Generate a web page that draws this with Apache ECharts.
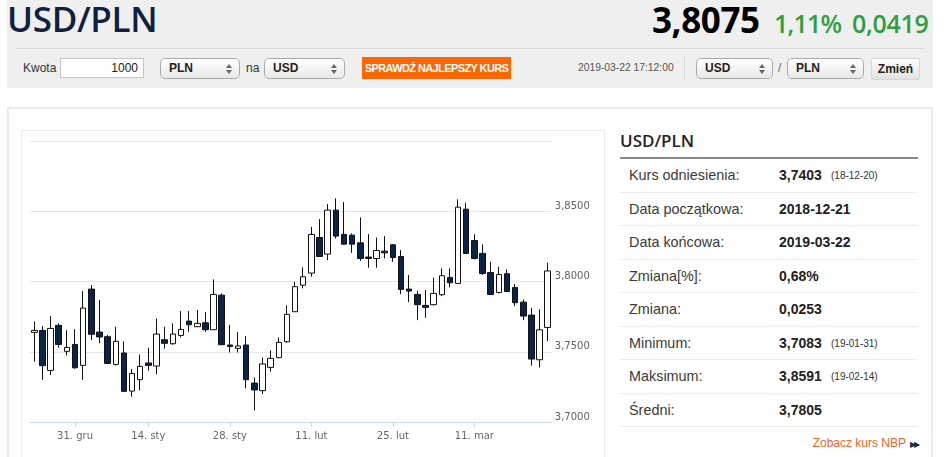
<!DOCTYPE html>
<html>
<head>
<meta charset="utf-8">
<script src="https://cdn.jsdelivr.net/npm/echarts/dist/echarts.min.js"></script>
<style>
  html, body { margin: 0; padding: 0; background: #fff; width: 945px; height: 457px; overflow: hidden; }
  body { position: relative; font-family: "Liberation Sans", Arial, sans-serif; color: #333; }
  .abs { position: absolute; white-space: nowrap; }
  #head { left: 7px; top: 0; width: 926px; height: 88px; background: #efefef; }
  #sep { left: 16px; top: 48px; width: 909px; height: 1px; background: #dcdcdc; }
  #title { left: 7px; top: 0px; font-family: "Open Sans", sans-serif; font-weight: 600; font-size: 35px; line-height: 38px; color: #0f2142; letter-spacing: -0.3px; }
  #price { left: 652px; top: 0px; font-family: "Open Sans", sans-serif; font-weight: 700; font-size: 35px; line-height: 40px; color: #000; letter-spacing: -0.4px; }
  .green { font-family: "Open Sans", sans-serif; font-weight: 600; font-size: 25px; line-height: 40px; color: #2f9e41; top: 3px; }
  .lbl { font-size: 12px; line-height: 22px; top: 57px; color: #333; }
  .inp { top: 58px; height: 20px; background: #fff; border: 1px solid #c4c4c4; box-sizing: border-box; font-size: 12px; line-height: 18px; text-align: right; padding-right: 5px; color: #222; }
  .sel { top: 58px; height: 21px; box-sizing: border-box; border: 1px solid #aaa; border-radius: 5px; background: linear-gradient(#ffffff, #e9e9e9); font-size: 12px; font-weight: bold; line-height: 19px; padding-left: 8px; color: #222; }
  .sel .arr { position: absolute; right: 7px; top: 5px; width: 0; height: 0; border-left: 3px solid transparent; border-right: 3px solid transparent; border-bottom: 4px solid #666; }
  .sel .arr2 { position: absolute; right: 7px; top: 11px; width: 0; height: 0; border-left: 3px solid transparent; border-right: 3px solid transparent; border-top: 4px solid #666; }
  #btn { left: 362px; top: 57px; width: 149px; height: 22px; background: #ff6600; color: #fff; font-size: 11px; font-weight: bold; line-height: 22px; text-align: center; letter-spacing: -0.6px; }
  #date { left: 578px; top: 58px; font-size: 10.3px; line-height: 20px; color: #555; }
  #vsep { left: 684px; top: 57px; width: 1px; height: 24px; background: #d8d8d8; }
  #zmien { left: 871px; top: 58px; width: 49px; height: 22px; box-sizing: border-box; background: linear-gradient(#fdfdfd, #e2e2e2); border: 1px solid #d6d6d6; border-radius: 2px; font-size: 12px; font-weight: bold; line-height: 20px; text-align: center; color: #222; }
  #panel { left: 7px; top: 107px; width: 926px; height: 360px; border: 2px solid #ececec; box-sizing: border-box; }
  #chartbox { left: 21px; top: 130px; width: 584px; height: 340px; border: 1px solid #ededed; box-sizing: border-box; }
  #chart { left: 22px; top: 131px; width: 583px; height: 326px; }
  #ttitle { left: 620px; top: 128px; font-family: "Open Sans", sans-serif; font-weight: 600; font-size: 17px; line-height: 26px; color: #222; }
  #tline { left: 620px; top: 157px; width: 298px; height: 2px; background: #8a8a8a; }
  .row { left: 620px; width: 298px; height: 33.5px; border-bottom: 1px solid #ececec; box-sizing: border-box; }
  .row .k { position: absolute; left: 9px; top: 0; font-size: 14.4px; line-height: 32px; color: #3a3a3a; }
  .row .v { position: absolute; left: 159px; top: 0; font-size: 14px; font-weight: bold; line-height: 32px; color: #222; }
  .row .d { position: absolute; left: 211px; top: 1px; font-size: 10px; line-height: 32px; color: #333; }
  #nbp { right: 27px; top: 435px; font-size: 12px; line-height: 16px; color: #f26522; }
  #nbp span { color: #1b2a4a; font-size: 8px; letter-spacing: -2px; margin-left: 4px; }
</style>
</head>
<body>
<div class="abs" id="head"></div>
<div class="abs" id="sep"></div>
<div class="abs" id="title">USD/PLN</div>
<div class="abs" id="price">3,8075</div>
<div class="abs green" style="left:774px;letter-spacing:-0.8px;">1,11%</div>
<div class="abs green" style="left:852px;letter-spacing:-0.3px;">0,0419</div>

<div class="abs lbl" style="left:23px;">Kwota</div>
<div class="abs inp" style="left:60px;width:84px;">1000</div>
<div class="abs sel" style="left:160px;width:80px;">PLN<div class="arr"></div><div class="arr2"></div></div>
<div class="abs lbl" style="left:246px;">na</div>
<div class="abs sel" style="left:264px;width:81px;">USD<div class="arr"></div><div class="arr2"></div></div>
<div class="abs" id="btn">SPRAWDŹ NAJLEPSZY KURS</div>
<div class="abs" id="date">2019-03-22 17:12:00</div>
<div class="abs" id="vsep"></div>
<div class="abs sel" style="left:696px;width:77px;">USD<div class="arr"></div><div class="arr2"></div></div>
<div class="abs lbl" style="left:778px;color:#666;">/</div>
<div class="abs sel" style="left:787px;width:77px;">PLN<div class="arr"></div><div class="arr2"></div></div>
<div class="abs" id="zmien">Zmień</div>

<div class="abs" id="panel"></div>
<div class="abs" id="chartbox"></div>
<div class="abs" id="chart"></div>

<div class="abs" id="ttitle">USD/PLN</div>
<div class="abs" id="tline"></div>
<div class="abs row" style="top:159px;"><span class="k">Kurs odniesienia:</span><span class="v">3,7403</span><span class="d">(18-12-20)</span></div>
<div class="abs row" style="top:192.5px;"><span class="k">Data początkowa:</span><span class="v">2018-12-21</span></div>
<div class="abs row" style="top:226px;"><span class="k">Data końcowa:</span><span class="v">2019-03-22</span></div>
<div class="abs row" style="top:259.5px;"><span class="k">Zmiana[%]:</span><span class="v">0,68%</span></div>
<div class="abs row" style="top:293px;"><span class="k">Zmiana:</span><span class="v">0,0253</span></div>
<div class="abs row" style="top:326.5px;"><span class="k">Minimum:</span><span class="v">3,7083</span><span class="d">(19-01-31)</span></div>
<div class="abs row" style="top:360px;"><span class="k">Maksimum:</span><span class="v">3,8591</span><span class="d">(19-02-14)</span></div>
<div class="abs row" style="top:393.5px;"><span class="k">Średni:</span><span class="v">3,7805</span></div>
<div class="abs" id="nbp">Zobacz kurs NBP<span>▶▶</span></div>

<script>
const dates = ['2018-12-21','2018-12-24','2018-12-26','2018-12-27','2018-12-28','2018-12-31',
  '2019-01-02','2019-01-03','2019-01-04','2019-01-07','2019-01-08','2019-01-09','2019-01-10','2019-01-11',
  '2019-01-14','2019-01-15','2019-01-16','2019-01-17','2019-01-18','2019-01-21','2019-01-22','2019-01-23',
  '2019-01-24','2019-01-25','2019-01-28','2019-01-29','2019-01-30','2019-01-31','2019-02-01','2019-02-04',
  '2019-02-05','2019-02-06','2019-02-07','2019-02-08','2019-02-11','2019-02-12','2019-02-13','2019-02-14',
  '2019-02-15','2019-02-18','2019-02-19','2019-02-20','2019-02-21','2019-02-22','2019-02-25','2019-02-26',
  '2019-02-27','2019-02-28','2019-03-01','2019-03-04','2019-03-05','2019-03-06','2019-03-07','2019-03-08',
  '2019-03-11','2019-03-12','2019-03-13','2019-03-14','2019-03-15','2019-03-18','2019-03-19','2019-03-20',
  '2019-03-21','2019-03-22'];

const opens = [3.7638,3.7652,3.7367,3.7688,3.7503,3.7552,3.7403,3.7946,3.7640,3.7607,
  3.7410,3.7491,3.7220,3.7301,3.7420,3.7398,3.7586,3.7557,3.7616,3.7718,
  3.7678,3.7706,3.7657,3.7903,3.7548,3.7524,3.7548,3.7277,3.7223,3.7389,
  3.7458,3.7571,3.7785,3.7974,3.8060,3.8313,3.8195,3.8508,3.8335,3.8330,
  3.8275,3.8174,3.8164,3.8216,3.8261,3.8178,3.7946,3.7908,3.7830,3.7835,
  3.7906,3.8029,3.7986,3.8515,3.8292,3.8200,3.8064,3.7922,3.8055,3.7958,
  3.7853,3.7761,3.7443,3.7673];

const closes = [3.7652,3.7401,3.7666,3.7552,3.7531,3.7386,3.7811,3.7624,3.7605,3.7417,
  3.7574,3.7218,3.7346,3.7396,3.7403,3.7626,3.7560,3.7626,3.7659,3.7692,
  3.7702,3.7657,3.7908,3.7550,3.7538,3.7541,3.7301,3.7228,3.7413,3.7453,
  3.7567,3.7766,3.7963,3.8034,3.8335,3.8178,3.8508,3.8323,3.8266,3.8266,
  3.8164,3.8164,3.8221,3.8204,3.8171,3.7944,3.7932,3.7835,3.7816,3.7915,
  3.8041,3.7991,3.8529,3.8200,3.8164,3.8057,3.7908,3.8050,3.7929,3.7849,
  3.7754,3.7448,3.7656,3.8075];

const lows = [3.7429,3.7299,3.7334,3.7529,3.7474,3.7379,3.7299,3.7583,3.7562,3.7413,
  3.7401,3.7213,3.7180,3.7225,3.7365,3.7339,3.7522,3.7550,3.7602,3.7642,
  3.7676,3.7642,3.7657,3.7548,3.7495,3.7495,3.7239,3.7083,3.7199,3.7358,
  3.7453,3.7564,3.7785,3.7951,3.8034,3.8176,3.8152,3.8306,3.8264,3.8204,
  3.8147,3.8098,3.8098,3.8164,3.8140,3.7910,3.7853,3.7725,3.7742,3.7830,
  3.7896,3.7958,3.7982,3.8195,3.8157,3.8046,3.7903,3.7915,3.7925,3.7825,
  3.7725,3.7401,3.7389,3.7576];

const highs = [3.7716,3.7683,3.7754,3.7702,3.7654,3.7661,3.7932,3.7974,3.7868,3.7619,
  3.7678,3.7574,3.7377,3.7481,3.7529,3.7737,3.7678,3.7702,3.7789,3.7789,
  3.7797,3.7782,3.8015,3.7915,3.7690,3.7640,3.7612,3.7318,3.7458,3.7510,
  3.7602,3.7830,3.7998,3.8100,3.8389,3.8444,3.8551,3.8591,3.8565,3.8342,
  3.8456,3.8337,3.8313,3.8323,3.8266,3.8223,3.8046,3.7932,3.7939,3.8027,
  3.8093,3.8093,3.8585,3.8560,3.8337,3.8264,3.8140,3.8105,3.8086,3.7982,
  3.7872,3.7813,3.7801,3.8133];

const xTickDates = ['2018-12-31','2019-01-14','2019-01-28','2019-02-11','2019-02-25','2019-03-11'];
const xTickLabels = ['31. gru','14. sty','28. sty','11. lut','25. lut','11. mar'];
const yTickValues = [3.70, 3.75, 3.80, 3.85, 3.90];
const yTickLabels = ['3,7000','3,7500','3,8000','3,8500',''];

const ohlc = dates.map((d, i) => [opens[i], closes[i], lows[i], highs[i]]);
const isTick = (idx) => xTickDates.indexOf(dates[idx]) >= 0;

const chart = echarts.init(document.getElementById('chart'), null, { renderer: 'canvas' });
chart.setOption({
  animation: false,
  grid: { left: 8.2, width: 521.6, top: 10, height: 281 },
  xAxis: {
    type: 'category',
    data: dates,
    boundaryGap: true,
    axisLine: { show: true, lineStyle: { color: '#ccd6eb', width: 1 } },
    axisTick: { show: true, alignWithLabel: true, interval: (i) => isTick(i), length: 5, lineStyle: { color: '#ccd6eb' } },
    axisLabel: {
      interval: (i) => isTick(i),
      formatter: (v) => { const k = xTickDates.indexOf(v); return k >= 0 ? xTickLabels[k] : ''; },
      color: '#666', fontFamily: 'DejaVu Sans', fontSize: 10, margin: 9
    },
    splitLine: { show: false }
  },
  yAxis: {
    type: 'value',
    position: 'right',
    min: 3.7, max: 3.9, interval: 0.05,
    scale: true,
    axisLine: { show: false },
    axisTick: { show: false },
    axisLabel: {
      formatter: (v) => { const k = yTickValues.findIndex(t => Math.abs(t - v) < 1e-6); return k >= 0 ? yTickLabels[k] : ''; },
      color: '#606060', fontFamily: 'DejaVu Sans', fontSize: 10, margin: 3, verticalAlign: 'bottom'
    },
    splitLine: { show: true, lineStyle: { color: '#e6e6e6', width: 1 } }
  },
  series: [{
    type: 'candlestick',
    data: ohlc,
    barWidth: 6,
    itemStyle: {
      color: '#ffffff', color0: '#0c2246',
      borderColor: '#111', borderColor0: '#111', borderWidth: 1
    }
  }]
});
</script>
</body>
</html>
